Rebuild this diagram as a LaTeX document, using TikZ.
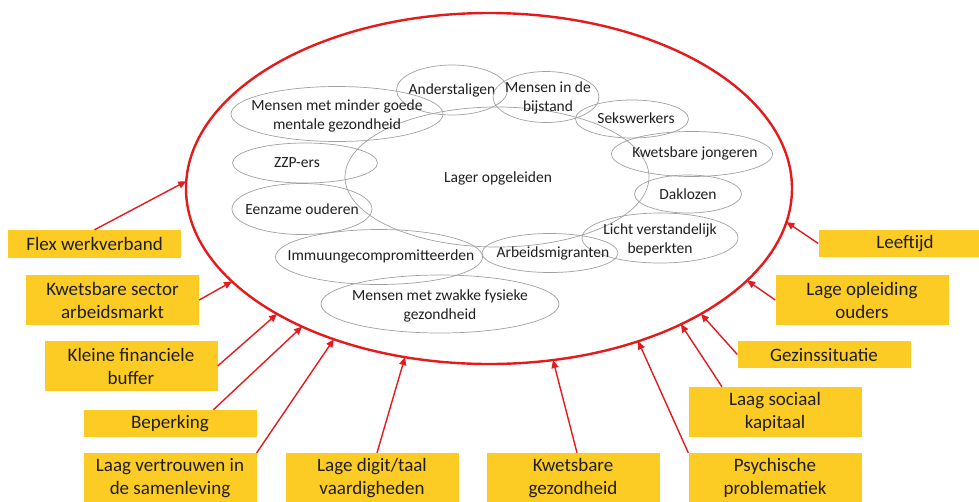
\documentclass[tikz,border=0pt]{standalone}
\usepackage{fontspec}
\setmainfont{Carlito}
\usetikzlibrary{shapes.geometric,arrows.meta,calc}
\definecolor{rred}{RGB}{228,26,28}
\definecolor{ryel}{RGB}{253,204,36}
\definecolor{rgrey}{RGB}{160,160,160}
\definecolor{rtext}{RGB}{30,30,30}
\begin{document}
\begin{tikzpicture}[x=1pt,y=-1pt,
  bigell/.style={ellipse, draw=rred, line width=2.4pt, inner sep=0pt, minimum width=606pt, minimum height=351pt},
  cell/.style={ellipse, draw=rgrey, line width=0.7pt, inner sep=0pt},
  ctext/.style={font=\fontsize{15.5}{18.5}\selectfont, text=rtext, align=center, inner sep=0pt},
  factor/.style={rectangle, fill=ryel, inner sep=0pt, minimum width=173pt, text=rtext, align=center, font=\fontsize{19}{23}\selectfont},
  arr/.style={draw=rred, line width=1.4pt, -{Triangle[length=8pt,width=7pt]}}]
\useasboundingbox (0,0) rectangle (979,501);
\clip (0,0) rectangle (979,501);

% big red ellipse
\node[bigell] (E) at (489,188.5) {};

% grey ellipses
\node[cell, minimum width=304pt, minimum height=140pt] (lager) at (497,177) {};
\node[ctext] (lager-t) at (498,178) {Lager opgeleiden};
\node[cell, minimum width=111pt, minimum height=50pt] (anders) at (452,90) {};
\node[ctext] (anders-t) at (452,90) {Anderstaligen};
\node[cell, minimum width=106pt, minimum height=51pt] (bijst) at (546,97) {};
\node[ctext] (bijst-t) at (548,98) {Mensen in de\\bijstand};
\node[cell, minimum width=212pt, minimum height=55pt] (mentaal) at (337,114) {};
\node[ctext] (mentaal-t) at (337,116) {Mensen met minder goede\\mentale gezondheid};
\node[cell, minimum width=145pt, minimum height=40pt] (zzp) at (305,163) {};
\node[ctext] (zzp-t) at (297,163) {ZZP-ers};
\node[cell, minimum width=113pt, minimum height=38pt] (seks) at (632,119) {};
\node[ctext] (seks-t) at (636,118) {Sekswerkers};
\node[cell, minimum width=161pt, minimum height=45pt] (jong) at (692,154) {};
\node[ctext] (jong-t) at (695,153) {Kwetsbare jongeren};
\node[cell, minimum width=107pt, minimum height=38pt] (dakl) at (688,194) {};
\node[ctext] (dakl-t) at (688,194) {Daklozen};
\node[cell, minimum width=156pt, minimum height=50pt] (licht) at (660,238) {};
\node[ctext] (licht-t) at (660,240) {Licht verstandelijk\\beperkten};
\node[cell, minimum width=136pt, minimum height=39pt] (arbeid) at (550,253) {};
\node[ctext] (arbeid-t) at (553,253) {Arbeidsmigranten};
\node[cell, minimum width=140pt, minimum height=51pt] (eenz) at (302,209) {};
\node[ctext] (eenz-t) at (302,209) {Eenzame ouderen};
\node[cell, minimum width=207pt, minimum height=55pt] (immuun) at (379,257) {};
\node[ctext] (immuun-t) at (381,256) {Immuungecompromitteerden};
\node[cell, minimum width=238pt, minimum height=58pt] (fysiek) at (440,304) {};
\node[ctext] (fysiek-t) at (440,306) {Mensen met zwakke fysieke\\gezondheid};

% yellow factor boxes
\node[factor, minimum height=28pt] (flex) at (94.5,244) {Flex werkverband};
\node[factor, minimum height=50pt] (sector) at (112.5,300) {Kwetsbare sector\\arbeidsmarkt};
\node[factor, minimum height=50pt] (buffer) at (131,366) {Kleine financiele\\buffer};
\node[factor, minimum height=27pt] (beperk) at (170,423.5) {Beperking};
\node[factor, minimum height=50pt] (vertr) at (170,478) {Laag vertrouwen in\\de samenleving};
\node[factor, minimum height=50pt] (digit) at (372,478) {Lage digit/taal\\vaardigheden};
\node[factor, minimum height=50pt] (kgez) at (573,478) {Kwetsbare\\gezondheid};
\node[factor, minimum height=50pt] (psych) at (775,478) {Psychische\\problematiek};
\node[factor, minimum height=50pt] (sociaal) at (775,412) {Laag sociaal\\kapitaal};
\node[factor, minimum height=27pt] (gezin) at (824,354.5) {Gezinssituatie};
\node[factor, minimum height=50pt] (oplei) at (862,300) {Lage opleiding\\ouders};
\node[factor, minimum height=27pt] (leeft) at (905,243.5) {Leeftijd};

% points on the big ellipse
\foreach \n/\t in {p1/182.4, p2/148.0, p3/134.4, p4/128.1, p5/120.8, p6/106.1, p7/77.8, p8/60.5, p9/50.7, p10/45.6, p11/31.6, p12/11.0}
  \coordinate (\n) at ({489+303*cos(\t)},{188.5+175.5*sin(\t)});

% arrows
\draw[arr] (flex.north) -- (p1);
\draw[arr] (sector.east) -- (p2);
\draw[arr] (buffer.east) -- (p3);
\draw[arr] ($(beperk.north)!0.5!(beperk.north east)$) -- (p4);
\draw[arr] (vertr.north east) -- (p5);
\draw[arr] ([xshift=5pt]digit.north) -- (p6);
\draw[arr] ([xshift=4pt]kgez.north) -- (p7);
\draw[arr] (psych.north west) -- (p8);
\draw[arr] ([xshift=-53pt]sociaal.north) -- (p9);
\draw[arr] (gezin.west) -- (p10);
\draw[arr] (oplei.west) -- (p11);
\draw[arr] (leeft.west) -- (p12);
\end{tikzpicture}
\end{document}
